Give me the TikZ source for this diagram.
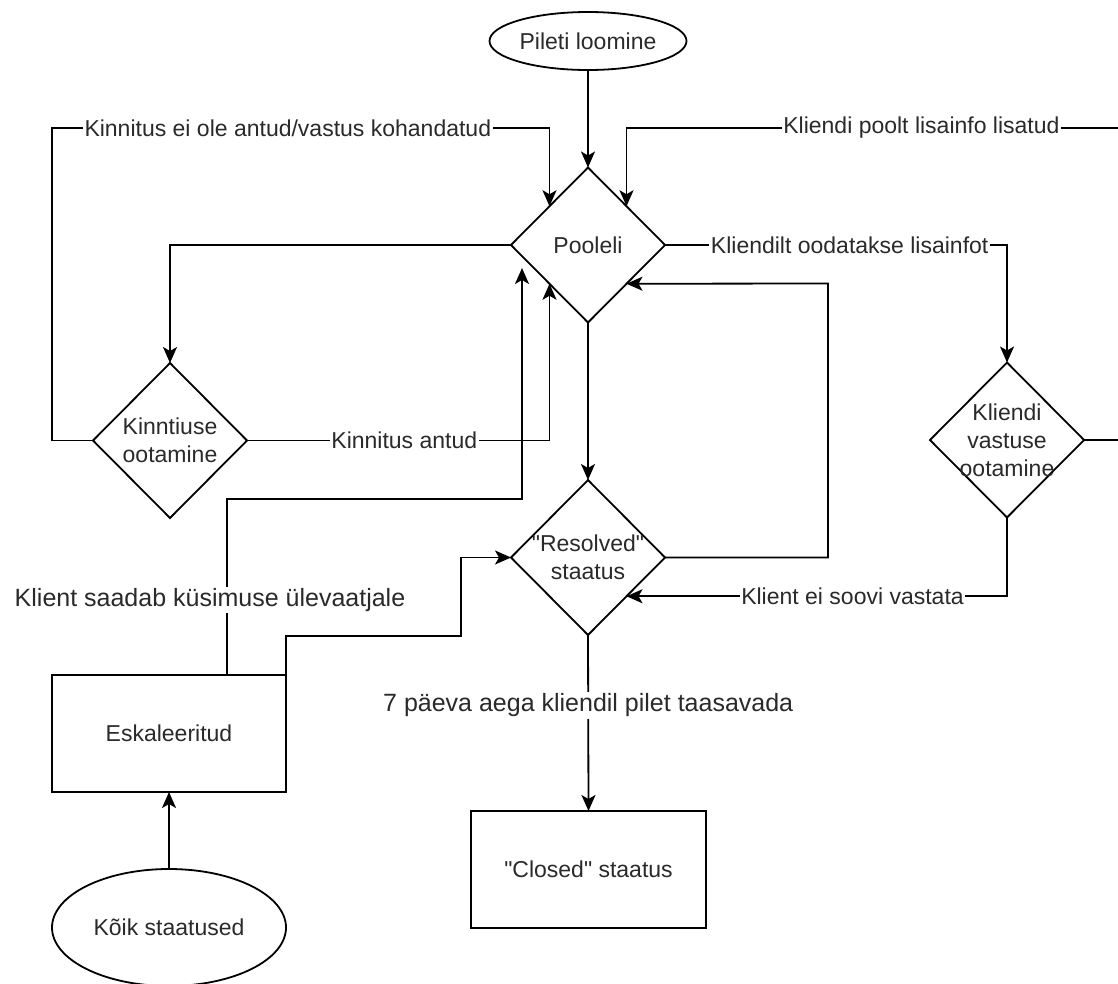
\documentclass[tikz,border=0pt]{standalone}
\usepackage{fontspec}
\setmainfont{Liberation Sans}
\usetikzlibrary{shapes.geometric,arrows.meta,calc}
\definecolor{txt}{HTML}{2A2A2A}
\tikzset{
  base/.style={draw=black, line width=1.8pt, outer sep=0pt, inner sep=0pt, text=txt,
    font=\fontsize{23}{28}\selectfont, align=center},
  ell/.style={base, ellipse},
  box/.style={base, rectangle, minimum width=234pt, minimum height=117pt},
  dia/.style={base, diamond, minimum width=154pt, minimum height=155pt},
  dtext/.style={text=txt, font=\fontsize{23}{28}\selectfont, align=center, inner sep=0pt},
  conn/.style={draw=black, line width=1.8pt},
  arr/.style={conn, -{Stealth[length=16pt, width=14pt, inset=4pt]}},
  elab/.style={fill=white, text=txt, inner sep=1.5pt, font=\fontsize{23}{28}\selectfont},
  biglab/.style={fill=white, text=txt, inner sep=1.5pt, font=\fontsize{25}{30}\selectfont},
}
\begin{document}
\begin{tikzpicture}[x=1pt, y=-1pt]
\useasboundingbox (0,0) rectangle (1118,983);
\clip (0,0) rectangle (1118,983);
\fill[white] (0,0) rectangle (1118,983);

% nodes
\node[ell, minimum width=197pt, minimum height=58pt] (pil) at (588,41) {Pileti loomine};
\node[dia, label={[dtext]center:Pooleli}] (poo) at (588,245) {};
\node[dia, label={[dtext]center:Kinntiuse\\ootamine}] (kin) at (170,440.5) {};
\node[dia, label={[dtext]center:Kliendi\\vastuse\\ootamine}] (kli) at (1007,440) {};
\node[dia, label={[dtext]center:\textquotedbl Resolved\textquotedbl\\staatus}] (res) at (588,557.5) {};
\node[box] (esk) at (169,733.5) {Eskaleeritud};
\node[box, minimum width=235pt] (clo) at (588.5,869.5) {\textquotedbl Closed\textquotedbl{} staatus};
\node[ell, minimum width=234pt, minimum height=117pt] (koi) at (169,927.5) {Kõik staatused};

\coordinate (pin) at (522,268);

% connectors
\draw[arr] (pil.south) -- (poo.north);

\draw[arr] (kin.west) -- (52,440.5) -- (52,128)
  -- node[elab, pos=0.474] {Kinnitus ei ole antud/vastus kohandatud} (poo.north west |- 0,128)
  -- (poo.north west);

\draw[arr] (kli.east) -- (1135,440) -- (1135,128)
  -- node[elab, pos=0.42] {Kliendi poolt lisainfo lisatud} (poo.north east |- 0,128)
  -- (poo.north east);

\draw[arr] (poo.east) -- node[elab, pos=0.54] {Kliendilt oodatakse lisainfot} (poo.east -| kli.north)
  -- (kli.north);

\draw[arr] (poo.west) -- (poo.west -| kin.north) -- (kin.north);

\draw[arr] (kin.east) -- node[elab, pos=0.52] {Kinnitus antud} (kin.east -| poo.south west)
  -- (poo.south west);

\draw[arr] ([xshift=58pt]esk.north) -- node[biglab, pos=0.426, xshift=-17pt] {Klient saadab küsimuse ülevaatjale} (227,499)
  -- (522,499) -- (pin);

\draw[arr] (esk.north east) -- (286,636) -- (461,636) -- (461,557.5) -- (res.west);

\draw[arr] (poo.south) -- (res.north);

\draw[arr] (res.east) -- (828,557.5) -- (828,283.5) -- (poo.south east);

\draw[arr] (kli.south) -- (kli.south |- res.south east)
  -- node[elab, pos=0.406] {Klient ei soovi vastata} (res.south east);

\draw[arr] (res.south) -- node[biglab, pos=0.4] {7 päeva aega kliendil pilet taasavada} (clo.north);

\draw[arr] (koi.north) -- (esk.south);
\end{tikzpicture}
\end{document}
